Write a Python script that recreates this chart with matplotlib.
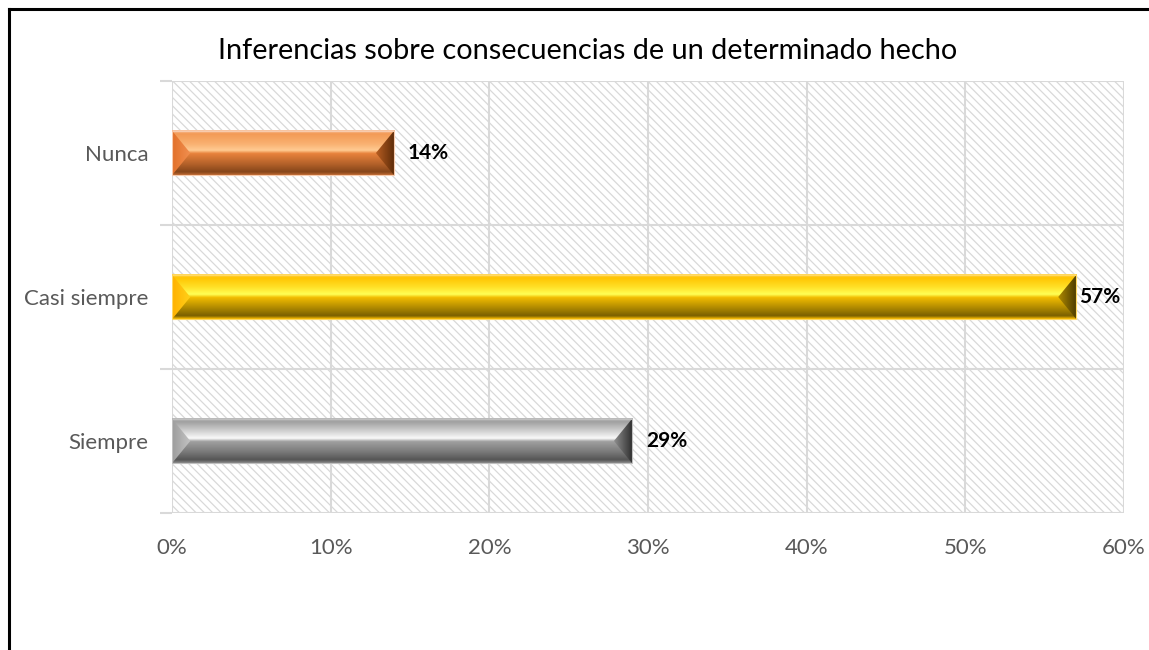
#Inferencias sobre consecuencias de un determinado hecho

import numpy as np
import matplotlib.pyplot as plt
from matplotlib.patches import Rectangle, Polygon
from matplotlib.colors import LinearSegmentedColormap
from matplotlib.lines import Line2D

plt.rcParams['font.family'] = ['Lato', 'DejaVu Sans']
plt.rcParams['hatch.linewidth'] = 0.9

categorias = ['Siempre', 'Casi siempre', 'Nunca']
valores = [29, 57, 14]
etiquetas = ['29%', '57%', '14%']
ticks_x = [0, 10, 20, 30, 40, 50, 60]
ticks_x_txt = ['0%', '10%', '20%', '30%', '40%', '50%', '60%']
titulo = 'Inferencias sobre consecuencias de un determinado hecho'

#colores de cada barra (arriba -> abajo), extremo izquierdo y derecho
perfiles = [
    [(0, '#C0C0C0'), (0.08, '#A0A0A0'), (0.3, '#D4D4D4'), (0.45, '#FAFAFA'), (0.52, '#A0A0A0'),
     (0.75, '#7A7A7A'), (0.93, '#555555'), (1, '#8A8A8A')],
    [(0, '#FFD966'), (0.08, '#FFC400'), (0.3, '#FFE22A'), (0.45, '#FFFF55'), (0.52, '#F2BC00'),
     (0.75, '#B08A00'), (0.93, '#7A6000'), (1, '#FFC000')],
    [(0, '#F8CBAD'), (0.08, '#F39A55'), (0.3, '#F9B070'), (0.45, '#FFCB92'), (0.52, '#E8823C'),
     (0.75, '#B5622A'), (0.93, '#86461A'), (1, '#C06A32')],
]
izq = [('#9C9C9C', '#C4C4C4'), ('#FFB000', '#FFD21A'), ('#E2702A', '#F19050')]
der = [('#8E8E8E', '#2C2C2C'), ('#B08A00', '#4A3A00'), ('#B85E22', '#5A2A08')]

fig = plt.figure(figsize=(11.49, 6.5), dpi=100)
ax = fig.add_axes([0.1497, 0.2108, 0.8286, 0.6646])

ax.set_xlim(0, 60)
ax.set_ylim(-0.5, len(categorias) - 0.5)

#fondo rayado
ax.add_patch(Rectangle((0, -0.5), 60, len(categorias), facecolor='white', edgecolor='#D9D9D9',
                       lw=0, hatch='\\\\\\\\', zorder=0))

for s in ax.spines.values():
    s.set_visible(False)

ax.set_xticks(ticks_x)
ax.set_xticklabels(ticks_x_txt, fontsize=16, color='#595959')
ax.tick_params(axis='x', length=0, pad=18)
ax.set_yticks(np.arange(-0.5, len(categorias)))
ax.set_yticklabels([])
ax.tick_params(axis='y', which='major', length=9, color='#D9D9D9', width=1.5)
ax.set_yticks(range(len(categorias)), minor=True)
ax.set_yticklabels(categorias, minor=True, fontsize=16, color='#595959')
ax.tick_params(axis='y', which='minor', length=0, pad=17)
ax.grid(True, which='major', color='#D9D9D9', lw=1.5, zorder=1)
ax.set_axisbelow(True)

alto = 0.31
bisel = 1.15
grad = np.linspace(0, 1, 256)

for i, v in enumerate(valores):
    y0, y1 = i - alto / 2, i + alto / 2
    cm = LinearSegmentedColormap.from_list('c%d' % i, perfiles[i])
    ax.imshow(grad.reshape(-1, 1), cmap=cm, extent=[0, v, y0, y1], aspect='auto',
              origin='upper', zorder=3, interpolation='bilinear')
    # extremo izquierdo
    tri = Polygon([(0, y0), (0, y1), (bisel, i)], closed=True, facecolor='none', lw=0)
    ax.add_patch(tri)
    cm_i = LinearSegmentedColormap.from_list('i%d' % i, izq[i])
    im = ax.imshow(grad.reshape(1, -1), cmap=cm_i, extent=[0, bisel, y0, y1], aspect='auto',
                   zorder=4, interpolation='bilinear')
    im.set_clip_path(tri)
    # extremo derecho
    tri2 = Polygon([(v, y0), (v, y1), (v - bisel, i)], closed=True, facecolor='none', lw=0)
    ax.add_patch(tri2)
    cm_d = LinearSegmentedColormap.from_list('d%d' % i, der[i])
    im2 = ax.imshow(grad.reshape(1, -1), cmap=cm_d, extent=[v - bisel, v, y0, y1], aspect='auto',
                    zorder=4, interpolation='bilinear')
    im2.set_clip_path(tri2)
    ax.add_patch(Rectangle((0, y0), v, alto, facecolor='none', edgecolor=perfiles[i][0][1],
                           lw=0.8, zorder=5))
    desp = 2 if v > 55 else 10
    ax.annotate(etiquetas[i], (v, i), xytext=(desp, 0), textcoords='offset points',
                ha='left', va='center', fontsize=15, fontweight='bold', color='black', zorder=6)

ax.set_xlim(0, 60)
ax.set_ylim(-0.5, len(categorias) - 0.5)

fig.text(0.511, 0.922, titulo, ha='center', va='center', fontsize=20.8, color='black')

#borde
fig.add_artist(Line2D([9 / 1149, 1], [1 - 9 / 650, 1 - 9 / 650], color='black', lw=2.2))
fig.add_artist(Line2D([9 / 1149, 9 / 1149], [0, 1 - 9 / 650], color='black', lw=2.2))

fig.savefig('out.png', dpi=100)
